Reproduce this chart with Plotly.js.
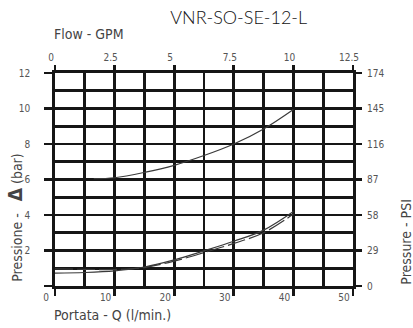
<!DOCTYPE html>
<html>
<head>
<meta charset="utf-8">
<script src="https://cdn.plot.ly/plotly-3.0.1.min.js"></script>
<style>html,body{margin:0;padding:0;background:#fff;}#chart{width:413px;height:328px;}
text{font-stretch:condensed;}
.gtitle{font-stretch:normal;}
</style>
</head>
<body>
<div id="chart"></div>
<script>
// Data (flow in l/min, pressure drop in bar)
var upperFlow = [6.5, 10, 15, 20, 25, 30, 35, 40];
var upperBar  = [6.05, 6.1, 6.4, 6.8, 7.35, 8.0, 8.85, 9.95];
var solidFlow = [0, 5, 10, 15, 20, 25, 30, 35, 40];
var solidBar  = [0.73, 0.76, 0.85, 1.07, 1.47, 1.98, 2.52, 3.15, 4.2];
var dashFlow  = [0, 5, 10, 15, 20, 25, 30, 35, 40];
var dashBar   = [0.96, 0.94, 0.93, 1.04, 1.4, 1.88, 2.4, 3.0, 4.05];

var lpmTicks = [0, 10, 20, 30, 40, 50];
var gpmTicks = [0, 2.5, 5, 7.5, 10, 12.5];
var barTicks = [0, 2, 4, 6, 8, 10, 12];
var barTickText = ['', '2', '4', '6', '8', '10', '12'];
var psiTicks = [0, 29, 58, 87, 116, 145, 174];

var chartTitle = 'VNR-SO-SE-12-L';
var topTitle = 'Flow - GPM';
var bottomTitle = 'Portata - Q (l/min.)';
var leftTitle = 'Pressione -   <b><span style="font-size:19px">Δ</span></b> (bar)';
var rightTitle = 'Pressure - PSI';

var L = 55, R = 60, T = 72.5, B = 41.5, W = 413, H = 328;
var pw = W - L - R, ph = H - T - B;
function px(x){ return (x - L) / pw; }
function py(y){ return (H - B - y) / ph; }

var gridC = '#161616', gridW = 2.7, lineC = '#3a3a3a';
var tickFont = {family: 'DejaVu Sans, sans-serif', size: 10, color: '#555'};
var labFont = {family: 'DejaVu Sans, sans-serif', size: 14, color: '#444'};

var traces = [
  {x: upperFlow, y: upperBar, mode: 'lines', line: {color: lineC, width: 1.2, shape: 'spline'}, hoverinfo: 'skip'},
  {x: solidFlow, y: solidBar, mode: 'lines', line: {color: lineC, width: 1.2, shape: 'spline'}, hoverinfo: 'skip'},
  {x: dashFlow, y: dashBar, mode: 'lines', line: {color: lineC, width: 1.2, shape: 'spline', dash: '18px,4px'}, hoverinfo: 'skip'},
  // empty traces so the secondary (GPM / PSI) axes are drawn
  {x: [], y: [], xaxis: 'x2', yaxis: 'y', mode: 'lines', hoverinfo: 'skip'},
  {x: [], y: [], xaxis: 'x', yaxis: 'y2', mode: 'lines', hoverinfo: 'skip'}
];

var layout = {
  width: W, height: H,
  margin: {l: L, r: R, t: T, b: B, pad: 0},
  paper_bgcolor: '#fff', plot_bgcolor: '#fff',
  showlegend: false,
  title: {text: chartTitle, font: {family: 'Lato, Open Sans, sans-serif', size: 18, color: '#111', weight: 300}, x: 0.578, xanchor: 'center', y: 0.945, yanchor: 'middle'},
  xaxis: {
    range: [0, 50], tickvals: lpmTicks, ticks: 'outside', ticklen: 7, tickwidth: gridW, tickcolor: gridC,
    showgrid: true, gridcolor: gridC, gridwidth: gridW, zeroline: false,
    showline: true, linecolor: gridC, linewidth: gridW, mirror: true,
    minor: {dtick: 5, tick0: 0, showgrid: true, gridcolor: gridC, gridwidth: gridW, ticks: ''},
    tickfont: tickFont, ticklabelshift: -9, ticklabelstandoff: -7, fixedrange: true
  },
  xaxis2: {
    overlaying: 'x', side: 'top', anchor: 'y', range: [0, 12.5], tickvals: gpmTicks,
    ticks: 'outside', ticklen: 7, tickwidth: gridW, tickcolor: gridC, showgrid: false, zeroline: false,
    showline: false, tickfont: tickFont, ticklabelshift: -4, ticklabelstandoff: 0, fixedrange: true
  },
  yaxis: {
    range: [0, 12], tickvals: barTicks, ticktext: barTickText, ticks: 'outside', ticklen: 8, tickwidth: gridW, tickcolor: gridC,
    showgrid: true, gridcolor: gridC, gridwidth: gridW, zeroline: false,
    showline: true, linecolor: gridC, linewidth: gridW, mirror: true,
    minor: {dtick: 1, tick0: 0, showgrid: true, gridcolor: gridC, gridwidth: gridW, ticks: ''},
    tickfont: tickFont, ticklabelstandoff: 12, fixedrange: true
  },
  yaxis2: {
    overlaying: 'y', side: 'right', anchor: 'x', range: [0, 174], tickvals: psiTicks,
    ticks: 'outside', ticklen: 8, tickwidth: gridW, tickcolor: gridC, showgrid: false, zeroline: false,
    showline: false, tickfont: tickFont, ticklabelstandoff: 3, fixedrange: true
  },
  annotations: [
    {text: topTitle, xref: 'paper', yref: 'paper', x: px(52), y: py(33), xanchor: 'left', yanchor: 'middle', showarrow: false, font: labFont},
    {text: bottomTitle, xref: 'paper', yref: 'paper', x: px(52), y: py(316), xanchor: 'left', yanchor: 'middle', showarrow: false, font: labFont},
    {text: leftTitle, xref: 'paper', yref: 'paper', x: px(15), y: py(218), xanchor: 'center', yanchor: 'middle', textangle: -90, showarrow: false, font: labFont},
    {text: rightTitle, xref: 'paper', yref: 'paper', x: px(406), y: py(242), xanchor: 'center', yanchor: 'middle', textangle: -90, showarrow: false, font: labFont}
  ]
};

Plotly.newPlot('chart', traces, layout, {staticPlot: true, displayModeBar: false});
</script>
</body>
</html>
